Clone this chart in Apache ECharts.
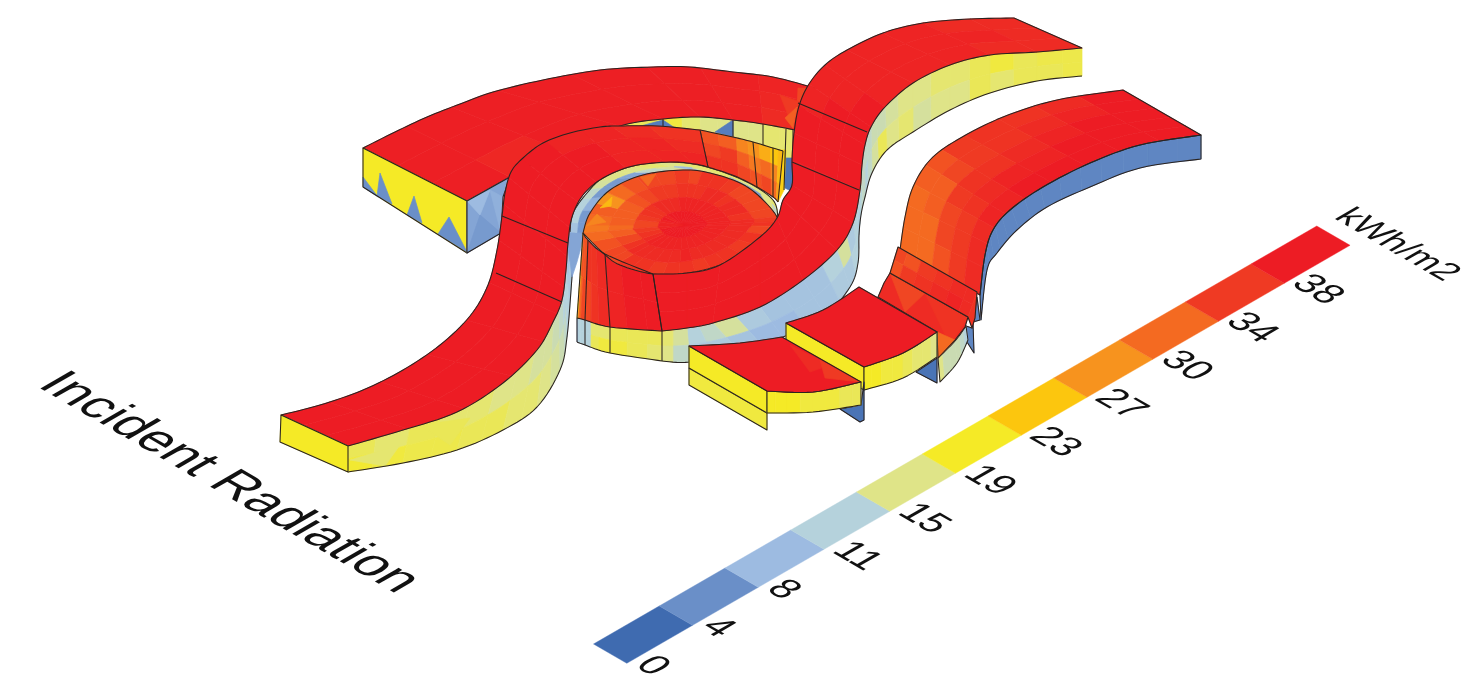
<!DOCTYPE html>
<html><head><meta charset="utf-8">
<script src="https://cdn.jsdelivr.net/npm/echarts@6/dist/echarts.min.js"></script>
<style>html,body{margin:0;padding:0;background:#fff}#c{width:1462px;height:699px}</style></head>
<body><div id="c"></div>
<script>
// ---- colour scale (kWh/m2) ----
const scaleValues = [0,4,8,11,15,19,23,27,30,34,38];
const scaleColors = ['#3f6bb0','#6a8fc8','#9dbbe1','#b5d2dc','#dfe488','#f5ea26','#fcc60e','#f7931e','#f46a21','#ef3a23','#ed1c24'];
const titleText = 'Incident Radiation';
const unitText = 'kWh/m2';

// ---- surfaces, as [x,y] on the picture's axes ----
const backOuter = [[363,148],[395,132],[427,117],[460,104],[493,92],[543,80],[600,70],[653,67],[690,67],[733,72],[773,77],[815,88]];
const backInner = [[467,201],[510,177],[560,150],[620,126],[663,119],[700,117],[733,120],[763,124],[795,130]];
const backValues = [
 [37.6,37.6,37.6,37.6,37.6,37.6,37.4,37],
 [37.6,37.6,37.6,37.6,37.6,37.6,37.4,36.5],
 [37.6,36.5,37.6,37.6,37.6,37.6,37.4,36]];
const backFacets = [[[798,88],[806,88],[796,128]],[[780,95],[803,103],[788,115]],[[785,118],[797,107],[793,128]],[[510,177],[530,150],[548,148]]];
const backFacetValues = [33,34,31,35.5];
const backWallTop = [[623,125],[663,119],[700,117],[733,120],[763,124],[793,130]];
const backWallBot = [[623,165],[663,165],[703,165],[733,165],[763,165],[793,165]];
const backWallValues = [[17,17,18,16,15,15,15,15,16,16]];
const backWallBlue = [[[637,127],[663,120],[675,128],[663,130]],[[715,132],[733,120],[733,137]]];
const backWallBlueValue = 2;
const backWallDividers = [[[663,119],[663,127]],[[733,120],[733,137]],[[763,124],[763,146]]];
const backColumnLight = [[786,129],[793,131],[793,160],[784,160]];
const backColumnDark = [[784,158],[793,158],[793,192],[785,188]];
const backColumnGold = [[780,150],[786,150],[784,190],[778,202]];
const backColumnValues = [16,1,22];
const backColumnLines = [[[786,129],[784,190]],[[793,130],[793,192]]];
const backEnd = [[363,148],[467,201],[467,253],[363,187]];
const backSide = [[467,201],[510,177],[503,197],[501,233],[467,253]];
const endTeeth = [
 [[363,177],[378,197],[363,187]],
 [[380,173],[392,204],[377,196]],
 [[414,196],[422,223],[407,215]],
 [[449,217],[467,252],[438,234]]];
const sideFacets = [[[467,201],[490,190],[480,215]],[[480,215],[501,233],[467,253]],[[490,190],[503,197],[501,233]]];
const sideFacetValues = [8,5,7];
const sideValue = 6;

const lsOuter = [[281,415],[320,405],[363,390],[403,370],[440,345],[470,316],[488,285],[497,250],[502,216],[505,193],[511,172],[523,158],[543,143],[570,133],[600,127],[620,126],[657,126],[700,130]];
const lsInner = [[348,446],[403,430],[457,412],[503,383],[537,350],[553,322],[562,300],[566,270],[568,243],[572,217],[583,195],[603,178],[633,166],[670,162],[695,164],[708,167]];
const lsValues = [
 [38,38,38,38,38,38,38,38,38,38,37,37,36,35],
 [38,38,38,38,38,38,38,38,38,38,38,37,37,36],
 [38,38,38,38,38,38,38,38,38,38,38,37,37,37]];
const lsWallTop = [[348,446],[403,430],[457,412],[503,383],[537,350],[553,322],[562,300],[566,270],[568,243],[572,217]];
const lsWallBot = [[348,472],[403,463],[457,450],[503,430],[537,407],[560,370],[567,337],[572,277],[575,235]];
const lsWallValues = [
 [17,16,17,16,16,15,15,14,14,13,12,11,11,9,6,5],
 [18.5,18,17.5,17.5,17,17,16,16,15,14,13,12,11,10,8,6]];
const lsWallFacets = [[[350,460],[400,445],[385,466]],[[420,425],[470,418],[450,445]]];
const lsWallFacetValues = [16,17];
const lsEnd = [[281,415],[348,446],[348,472],[280,442]];
const lsDividers = [[[502,216],[568,243]],[[496,273],[562,302]]];

const rampTop = [[700,130],[733,137],[753,142],[773,148],[783,151]];
const rampBot = [[708,167],[735,176],[757,187],[773,197],[778,202]];
const rampValues = [
 [32,31,28,27,25,23,24],
 [33,34,31,29,30,28,24],
 [35,35,33,32,33,30,26]];
const rampDividers = [[[700,130],[708,167]],[[753,142],[757,187]],[[773,148],[773,197]]];

const ribbonOuter = [[570,232],[573,213],[587,193],[603,178],[633,166],[670,162],[707,167],[747,182],[773,200],[778,218]];
const ribbonInner = [[585,233],[590,213],[610,190],[643,175],[683,170],[710,173],[740,183],[760,197],[775,212],[779,220]];
const ribbonValues = [
 [9,11,11,12,14,15,15,16,15,16,16,16,15,15,16,16],
 [5,5,7,5,5,6,12,14,8,15,16,7,5,15,12,15]];
const ribbonFoot = [[568,243],[570,232],[585,233],[577,262],[572,277]];
const ribbonFootValue = 6;

const ovalEdge = [[583,233],[590,213],[610,190],[643,175],[683,170],[710,173],[740,183],[760,197],[777,217],[773,227],[753,247],[720,265],[687,273],[653,274],[620,265],[603,253],[583,233]];
const ovalCentre = [[683,225],[683,225]];
const ovalValues = [
 [29,30,31,27,30,32,33,33,34,33,35,35,34,33,33,33,33,34,35,33,35,34,35,35,34,35,35,34,35,35,33,33,32,30],
 [30,31,31,31,32,33,34,34,35,35,35,36,36,35,36,36,35,36,36,36,36,36,36,36,36,37,36,36,36,36,36,35,33,31],
 [33,33,34,35,35,36,36,36,37,37,37,37,37,37,37,37,37,37,37,37,37,37,37,37,37,37,37,37,37,37,37,36,35,34],
 [37,37,37,38,37,38,38,38,38,38,38,38,38,38,38,38,38,38,38,38,38,38,38,38,38,38,38,38,38,38,38,38,38,37]];
const ovalFacets = [[[600,208],[612,197],[611,206]],[[586,226],[597,214],[606,222]],[[640,177],[656,174],[648,186]]];
const ovalFacetValues = [24,28,30];

const lowTop = [[583,233],[588,240],[605,254],[653,274]];
const lowBot = [[577,318],[585,320],[610,327],[662,331]];
const lowValues = [[25,32,32,35,35,36,37,38,38],[22,30,33,33,35,36,37,38,38]];
const lowDividers = [[[588,240],[585,320]],[[605,254],[610,327]],[[653,274],[662,331]]];
const lowWallTop = [[577,318],[585,320],[610,327],[662,331]];
const lowWallBot = [[577,342],[585,345],[610,353],[662,361]];
const lowWallValues = [[8,11,11,11,16,16,17,17,17],[8,11,11,11,17,18,18,17,16]];
const lowWallDividers = [[[585,320],[585,345]],[[610,327],[610,353]],[[662,331],[662,361]]];
const lowEdge = [[[577,318],[577,342]],[[577,318],[583,233]]];

const rsOuter = [[1014,18],[970,19],[923,23],[883,33],[847,50],[825,65],[809,84],[799,106],[794,133],[792,160],[792,185],[783,200],[777,218],[760,237],[720,265],[687,273],[653,274]];
const rsInner = [[1082,48],[1037,52],[990,55],[950,65],[913,83],[885,107],[871,127],[865,145],[862,165],[860,190],[853,223],[837,250],[803,280],[760,307],[713,323],[687,328],[662,331]];
const rsValues = [
 [36,36,37,37,37,37,37,38,38,38,38,38,38,38,38,38],
 [36,37,37,37,37,37,38,38,38,38,38,38,38,38,38,38],
 [36,36,37,37,37,38,38,38,38,38,38,38,38,38,38,38]];
const rsWallBot = [[1082,76],[1037,81],[990,93],[950,110],[913,132],[887,150],[872,173],[865,197],[861,215],[859,235],[858,263],[850,287],[825,315],[783,337],[740,352],[690,362],[662,361]];
const rsWallValues = [
 [17.5,17.5,17,18,17,16,16,15,15,14,13,13,12,12,12,12,12,13,11,11,10,14,11,9,9,9,10,14,12,11,14,16],
 [17.5,17,17,16,17,15,15,14,16,15,17,14,12,11,12,12,11,11,10,11,11,10,10,9,9,8,8,9,10,10,12,15]];
const rsDividers = [[[798,103],[867,132]],[[792,162],[859,190]]];

const farOuter = [[1123,90],[1057,100],[1003,117],[957,140],[930,160],[913,187],[905,217],[900,250]];
const farInner = [[1201,135],[1140,145],[1090,163],[1043,187],[1010,210],[993,230],[985,255],[980,295]];
const farValues = [
 [38,36,35,35,34,32,31,30,30,30],
 [38,37,36,35,34,33,31,31,30,30],
 [38,38,37,36,35,35,34,33,33,32],
 [38,38,38,37,37,36,35,34,34,34],
 [38,38,38,38,38,37,37,36,36,36]];
const farWallBot = [[1201,159],[1140,168],[1090,187],[1047,207],[1017,230],[997,253],[987,270],[981,320]];
const farWallValues = [[3,3,3,3,3,3,3,3,3,3,3,3,3,3,3,3]];

const rampUpperTop = [[898,247],[977,292]];
const rampUpperBot = [[890,273],[968,317]];
const rampUpperEnd = [[977,292],[975,318],[972,328],[968,317]];
const rampUpperValues = [[33,32,34,35,36,36],[32,34,35,36,37,36]];
const rampUpperEndValue = 35;
const rampLowerFace = [[890,273],[968,317],[965,327],[955,340],[938,358],[937,332],[878,297],[884,283]];
const rampLowerFaceValue = 36;
const rampLowerFacets = [[[890,273],[925,293],[905,312]],[[925,293],[968,317],[950,345]],[[937,332],[955,340],[938,358]]];
const rampLowerFacetValues = [33,35,30];
const rampLowerWallTop = [[938,358],[955,341],[966,326]];
const rampLowerWallBot = [[940,382],[957,363],[968,340]];
const rampLowerWallValues = [[15,13,13,13,12,11]];
const blueTab = [[966,326],[972,328],[977,297],[980,320],[973,322],[974,353],[967,342]];
const blueTabValue = 3;

const midTop = [[786,323],[823,310],[859,287]];
const midTopFront = [[937,332],[903,353],[864,367]];
const midLeftWall = [[786,323],[864,367],[864,390],[786,348]];
const midFrontTop = [[864,367],[903,353],[937,332]];
const midFrontBot = [[864,390],[903,378],[937,357]];
const midFrontValues = [[19,19,18,18,17,16,16,15]];
const midTab = [[916,372],[937,358],[937,383]];

const frontTop = [[689,346],[740,343],[782,337]];
const frontTopFront = [[861,382],[813,392],[767,391]];
const frontLeftUpper = [[689,346],[767,391],[767,413],[689,368]];
const frontLeftLower = [[689,368],[767,413],[767,430],[689,385]];
const frontRightTop = [[767,391],[813,392],[861,382]];
const frontRightBot = [[767,413],[813,412],[861,405]];
const frontRightValues = [[19,19,19,18,18,18,17,17]];
const frontTab = [[840,409],[861,405],[864,382],[864,420],[860,422]];
const frontFacets = [[[790,345],[830,365],[810,372]],[[820,360],[861,382],[825,378]]];
const frontFacetValues = [36,34];
const tabValue = 1, wallYellow = 19, wallYellowLow = 18, roofRed = 38;

// ---- helpers that turn the arrays above into drawn items ----
function colorOf(v){
  const s=scaleValues,c=scaleColors;
  if(v<=s[0])return c[0]; if(v>=s[s.length-1])return c[c.length-1];
  let i=0; while(v>s[i+1])i++;
  const t=(v-s[i])/(s[i+1]-s[i]);
  const a=parseInt(c[i].slice(1),16),b=parseInt(c[i+1].slice(1),16);
  const f=sh=>Math.round(((a>>sh)&255)*(1-t)+((b>>sh)&255)*t);
  return 'rgb('+f(16)+','+f(8)+','+f(0)+')';
}
function at(p,t){ // smooth reading along a drawn edge, t in 0..1
  const n=p.length-1; const u=Math.min(t*n,n-1e-6); const i=Math.floor(u),f=u-i;
  const a=p[Math.max(i-1,0)],b=p[i],c=p[i+1],d=p[Math.min(i+2,n)];
  const k=j=>0.5*(2*b[j]+(c[j]-a[j])*f+(2*a[j]-5*b[j]+4*c[j]-d[j])*f*f+(3*b[j]-a[j]-3*c[j]+d[j])*f*f*f);
  return [k(0),k(1)];
}
function edge(p,t0,t1,steps){const o=[];for(let i=0;i<=steps;i++)o.push(at(p,t0+(t1-t0)*i/steps));return o;}
const items=[];
function poly(pts,v){items.push({pts:pts,v:v});}
function line(pts,close){items.push({pts:pts,line:true,close:!!close});}
function curve(p){return edge(p,0,1,(p.length-1)*8);}
function mesh(top,bot,rows){
  const nr=rows.length;
  const span=Math.max(top.length,bot.length)-1;
  rows.forEach((row,r)=>{
    const nc=row.length, steps=Math.max(4,Math.ceil(span*8/nc));
    row.forEach((v,c)=>{
      const t0=c/nc,t1=(c+1)/nc;
      const A=edge(top,t0,t1,steps),B=edge(bot,t0,t1,steps);
      const mix=(k)=>A.map((a,i)=>[a[0]+(B[i][0]-a[0])*k,a[1]+(B[i][1]-a[1])*k]);
      poly(mix(r/nr).concat(mix((r+1)/nr).reverse()),v);
    });
  });
}
function outline(top,bot){ line(curve(top).concat(curve(bot).reverse()),true); }
function straight(list){ list.forEach(l=>line(l)); }
function facets(list,vals){ list.forEach((f,i)=>poly(f,vals[i])); }

// ---- painter's order: far surfaces first ----
mesh(backWallTop,backWallBot,backWallValues);
backWallBlue.forEach(f=>poly(f,backWallBlueValue));
straight(backWallDividers);
poly(backColumnLight,backColumnValues[0]); poly(backColumnDark,backColumnValues[1]); poly(backColumnGold,backColumnValues[2]);
straight(backColumnLines);
mesh(backOuter,backInner,backValues); facets(backFacets,backFacetValues); outline(backOuter,backInner);
poly(backEnd,wallYellow); endTeeth.forEach(t=>poly(t,4)); line(backEnd,true);
poly(backSide,sideValue); facets(sideFacets,sideFacetValues); line(backSide,true);

mesh(farOuter,farInner,farValues);
mesh(farInner,farWallBot,farWallValues); outline(farOuter,farInner); outline(farInner,farWallBot);
poly(blueTab,blueTabValue); line(blueTab,true);
mesh(rampLowerWallTop,rampLowerWallBot,rampLowerWallValues); outline(rampLowerWallTop,rampLowerWallBot);
poly(rampLowerFace,rampLowerFaceValue); facets(rampLowerFacets,rampLowerFacetValues); line(rampLowerFace,true);
mesh(rampUpperTop,rampUpperBot,rampUpperValues); poly(rampUpperEnd,rampUpperEndValue);
line(rampUpperTop.concat(rampUpperEnd.slice(1)).concat(rampUpperBot.slice().reverse()),true);

mesh(lsWallTop,lsWallBot,lsWallValues); facets(lsWallFacets,lsWallFacetValues); line(curve(lsWallBot));
poly(ribbonFoot,ribbonFootValue);
mesh(ribbonOuter,ribbonInner,ribbonValues); line(curve(ribbonOuter));
mesh(rampTop,rampBot,rampValues); line(curve(rampTop)); line(curve(rampBot)); straight(rampDividers);
line([rampTop[rampTop.length-1],rampBot[rampBot.length-1]]);
mesh(lsOuter,lsInner,lsValues); outline(lsOuter,lsInner);
poly(lsEnd,wallYellow); line(lsEnd,true); straight(lsDividers);

mesh(lowWallTop,lowWallBot,lowWallValues);
mesh(lowTop,lowBot,lowValues);
mesh(ovalEdge,ovalCentre,ovalValues); facets(ovalFacets,ovalFacetValues);
line(curve(ovalEdge),true);

mesh(rsInner,rsWallBot,rsWallValues); line(curve(rsWallBot));
mesh(rsOuter,rsInner,rsValues); outline(rsOuter,rsInner);
line(curve(lowBot)); line(curve(lowWallBot)); line(curve(lowTop));
straight(lowDividers); straight(lowWallDividers); straight(rsDividers); straight(lowEdge);

poly(midTab,tabValue); line(midTab,true);
poly(midLeftWall,wallYellow); line(midLeftWall,true);
mesh(midFrontTop,midFrontBot,midFrontValues); outline(midFrontTop,midFrontBot);
const midTopFace=curve(midTop).concat(curve(midTopFront));
poly(midTopFace,roofRed); line(midTopFace,true);

poly(frontTab,tabValue); line(frontTab,true);
poly(frontLeftLower,wallYellowLow); line(frontLeftLower,true);
poly(frontLeftUpper,wallYellow); line(frontLeftUpper,true);
mesh(frontRightTop,frontRightBot,frontRightValues); outline(frontRightTop,frontRightBot);
const frontTopFace=curve(frontTop).concat(curve(frontTopFront));
poly(frontTopFace,roofRed); facets(frontFacets,frontFacetValues); line(frontTopFace,true);

// ---- colour key laid along the floor direction ----
const keyStart = [593.5,644], keyStep = [65.75,-38], keyAcross = [33.3,19.3];
const keyLabelStart = [643,660.7], keyLabelStep = [65.6,-38.15];
const titlePos = [229,483], unitPos = [1397,245];

function isoText(api,x,y,txt,size,align){
  const p=api.coord([x,y]);
  // floor-plane lettering: turn an eighth of a circle, then flatten
  return {type:'group',x:p[0],y:p[1],scaleX:1.2247,scaleY:0.7071,children:[
    {type:'text',rotation:-Math.PI/4,
     style:{text:txt,x:0,y:0,align:align,verticalAlign:'middle',fill:'#111',
       fontSize:size,fontFamily:'"Liberation Sans", Arial, sans-serif'}}]};
}
const option={
  animation:false,backgroundColor:'#fff',
  grid:{left:0,right:0,top:0,bottom:0,containLabel:false},
  xAxis:{type:'value',min:0,max:1462,show:false},
  yAxis:{type:'value',min:0,max:699,inverse:true,show:false},
  series:[
    {type:'custom',silent:true,clip:false,coordinateSystem:'cartesian2d',
     data:items.map((d,i)=>[i,d.v==null?0:d.v]),
     renderItem:function(params,api){
       const d=items[api.value(0)];
       const pts=d.pts.map(q=>api.coord(q));
       if(d.line){
         return {type:d.close?'polygon':'polyline',shape:{points:pts},
           style:{fill:null,stroke:'#2a2320',lineWidth:1.05,lineJoin:'round'}};
       }
       const col=colorOf(api.value(1));
       return {type:'polygon',shape:{points:pts},style:{fill:col,stroke:col,lineWidth:0.7,lineJoin:'round'}};
     }},
    {type:'custom',silent:true,clip:false,coordinateSystem:'cartesian2d',
     data:scaleValues.map((v,i)=>[i,v]),
     renderItem:function(params,api){
       const i=api.value(0),v=api.value(1);
       const a=[keyStart[0]+keyStep[0]*i,keyStart[1]+keyStep[1]*i];
       const b=[a[0]+keyStep[0],a[1]+keyStep[1]];
       const c=[b[0]+keyAcross[0],b[1]+keyAcross[1]];
       const e=[a[0]+keyAcross[0],a[1]+keyAcross[1]];
       const col=scaleColors[i];
       return {type:'group',children:[
         {type:'polygon',shape:{points:[a,b,c,e].map(q=>api.coord(q))},style:{fill:col,stroke:col,lineWidth:0.4}},
         isoText(api,keyLabelStart[0]+keyLabelStep[0]*i,keyLabelStart[1]+keyLabelStep[1]*i,String(v),38,'left')
       ]};
     }},
    {type:'custom',silent:true,clip:false,coordinateSystem:'cartesian2d',
     data:[[0],[1]],
     renderItem:function(params,api){
       return api.value(0)===0?isoText(api,titlePos[0],titlePos[1],titleText,52,'center')
                              :isoText(api,unitPos[0],unitPos[1],unitText,35,'center');
     }}
  ]
};
echarts.init(document.getElementById('c'),null,{renderer:'canvas'}).setOption(option);
</script></body></html>
